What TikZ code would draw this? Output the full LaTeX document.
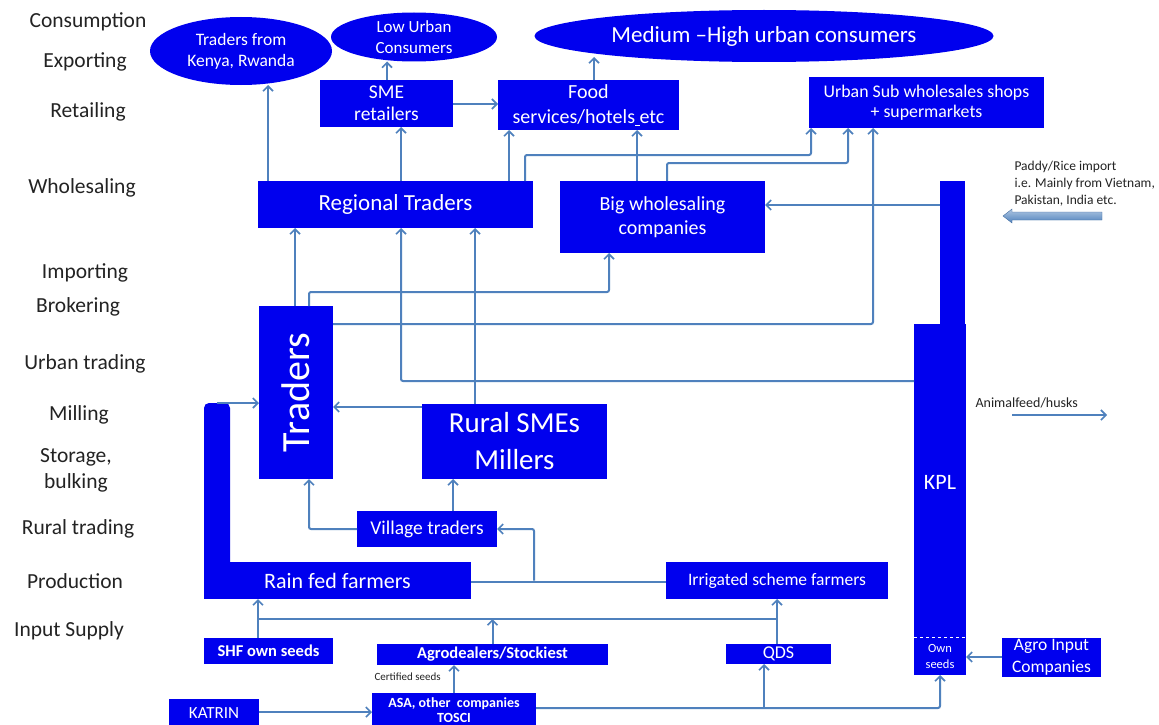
\documentclass[tikz,border=0pt]{standalone}
\usepackage{fontspec}
\setmainfont{Carlito}
\usetikzlibrary{shapes.geometric,arrows.meta}
\definecolor{boxblue}{RGB}{0,0,238}
\definecolor{linkblue}{RGB}{79,129,189}
\definecolor{labelgray}{RGB}{35,35,35}
\newcommand\fsz[2]{\fontsize{#1}{#2}\selectfont}
\tikzset{
  box/.style={rectangle, fill=boxblue, text=white, inner sep=0pt, outer sep=0pt, align=center},
  oval/.style={ellipse, fill=boxblue, text=white, inner sep=0pt, outer sep=0pt, align=center},
  sz/.style 2 args={minimum width=#1pt, minimum height=#2pt},
  link/.style={draw=linkblue, line width=2pt, rounded corners=2pt},
  conn/.style={link, -{Straight Barb[length=5pt,width=10pt,line width=1.6pt]}},
  stage/.style={text=labelgray, font=\fsz{21.5}{26}, align=center},
  note/.style={text=labelgray, anchor=west, align=left},
}
\begin{document}
\begin{tikzpicture}[x=1pt, y=-1pt]
\fill[white] (0,0) rectangle (1159,725);
\useasboundingbox (0,0) rectangle (1159,725);

% value-chain stages
\node[stage] (st1) at (88,22) {Consumption};
\node[stage] (st2) at (85,62) {Exporting};
\node[stage] (st3) at (88,112) {Retailing};
\node[stage] (st4) at (82,188) {Wholesaling};
\node[stage] (st5) at (85,273) {Importing};
\node[stage] (st6) at (78,307) {Brokering};
\node[stage] (st7) at (85,364) {Urban trading};
\node[stage] (st8) at (79,415) {Milling};
\node[stage] (st9) at (76,470) {Storage,\\bulking};
\node[stage] (st10) at (78,529) {Rural trading};
\node[stage] (st11) at (75,581) {Production};
\node[stage] (st12) at (69,631) {Input Supply};

% consumers
\node[oval, sz={182}{68}, font=\fsz{17.5}{21}] (kenya) at (241,51) {Traders from\\Kenya, Rwanda};
\node[oval, sz={166}{49}, font=\fsz{17}{21}] (low) at (414,37) {Low Urban\\Consumers};
\node[oval, sz={459}{52}, font=\fsz{23}{26}] (med) at (764,36) {Medium –High urban consumers};

% retail
\node[box, sz={133}{47}, font=\fsz{19.5}{22}] (sme) at (386.5,103.5) {SME\\retailers};
\node[box, sz={181}{50}, font=\fsz{20}{25}] (food) at (588.5,105) {Food\\services/hotels\underline{\ }etc};
\node[box, sz={235}{51}, font=\fsz{17.8}{20}] (urban) at (926.5,102.5) {Urban Sub wholesales shops\\+ supermarkets};

% wholesale
\node[box, sz={275}{47}, font=\fsz{23}{26}] (rt) at (395.5,204.5) {Regional Traders};
\node[box, sz={205}{72}, font=\fsz{20}{24}] (big) at (662.5,217) {Big wholesaling\\companies};

% KPL column
\node[box, sz={25}{145}] (kpltop) at (952.5,253) {};
\node[box, sz={52}{351}] (kpl) at (940,499.5) {};
\node[text=white, font=\fsz{22}{26}, inner sep=0pt] (kplname) at (940,482) {KPL};
\node[box, sz={52}{38}, font=\fsz{12.5}{16}] (ownseeds) at (940,656) {Own\\seeds};
\draw[white, dashed, line width=0.8pt] (ownseeds.north west) -- (ownseeds.north east);

% traders, millers, rural level
\node[box, sz={74}{173}] (traders) at (296,392.5) {\rotatebox{90}{\fsz{40}{44}Traders}};
\node[box, sz={185}{75}, font=\fsz{29}{37}] (smes) at (514.5,441.5) {Rural SMEs\\Millers};
\node[box, sz={140}{36}, font=\fsz{19.5}{22}] (village) at (427,529) {Village traders};

% production
\node[box, sz={26}{166}, rounded corners=5pt] (rainbar) at (217,486) {};
\node[box, sz={267}{37}, font=\fsz{22}{26}] (rain) at (337.5,580.5) {Rain fed farmers};
\node[box, sz={222}{37}, font=\fsz{17.5}{21}] (irr) at (777,580.5) {Irrigated scheme farmers};

% input supply
\node[box, sz={129}{26}, font=\bfseries\fsz{16.5}{20}] (shf) at (268.5,651) {SHF own seeds};
\node[box, sz={231}{21}, font=\bfseries\fsz{16.5}{20}] (agro) at (492.5,654.5) {Agrodealers/Stockiest};
\node[box, sz={105}{20}, font=\fsz{18}{20}] (qds) at (778.5,654) {QDS};
\node[box, sz={99}{39}, font=\fsz{17.5}{22}] (aic) at (1051.5,657.5) {Agro Input\\Companies};
\node[box, sz={90}{28}, font=\fsz{17}{20}] (katrin) at (214,713) {KATRIN};
\node[box, sz={164}{42}, font=\bfseries\fsz{14}{15}, text depth=0pt] (asa) at (454,714) {};
\node[text=white, font=\bfseries\fsz{14}{15}, align=center, inner sep=0pt] (asaname) at (454,710) {ASA, other\ \ companies\\TOSCI};

% side notes
\node[note, font=\fsz{13.5}{17}] (imptext) at (1011,184) {Paddy/Rice import\\i.e. Mainly from Vietnam,\\Pakistan, India etc.};
\shade[top color=linkblue!45!white, bottom color=linkblue, draw=linkblue!85!black, line width=0.4pt]
  (1102,212) -- (1012,212) -- (1012,209) -- (1003,216) -- (1012,223) -- (1012,220) -- (1102,220) -- cycle;
\node[note, font=\fsz{14}{17}] (feedtext) at (972,403) {Animalfeed/husks};
\coordinate (feedA) at (1012,415);
\coordinate (feedB) at (1107,415);
\draw[conn, line width=2.6pt] (feedA) -- (feedB);
\node[note, font=\fsz{11}{13}] (certtext) at (371,677) {Certified seeds};

% flows to consumers
\draw[conn] (rt.north -| 268,0) -- (kenya.south -| 268,0);
\draw[conn] (rt.north -| 401,0) -- (sme.south -| 401,0);
\draw[conn] (sme.north -| 387,0) -- (low.south -| 387,0);
\draw[conn] (sme.east |- 0,104) -- (food.west |- 0,104);
\draw[conn] (food.north -| 594,0) -- (594,57);
\draw[conn] (rt.north -| 509,0) -- (food.south -| 509,0);
\draw[conn] (rt.north -| 525,0) |- (811,155) -- (urban.south -| 811,0);
\draw[conn] (big.north -| 637,0) -- (food.south -| 637,0);
\draw[conn] (big.north -| 667,0) |- (848,163) -- (urban.south -| 848,0);
\draw[conn] (kpltop.west |- 0,205) -- (big.east |- 0,205);

% flows from traders and KPL
\draw[conn] (traders.north -| 295,0) -- (rt.south -| 295,0);
\draw[conn] (traders.north -| 309,0) |- (609,292) -- (big.south -| 609,0);
\draw[conn] (traders.east |- 0,324) -| (urban.south -| 873,0);
\draw[conn] (kpl.west |- 0,381) -| (rt.south -| 401,0);
\draw[conn] (smes.north -| 475,0) -- (rt.south -| 475,0);
\draw[conn] (smes.west |- 0,407) -- (traders.east |- 0,407);
\draw[conn] (village.north -| 453,0) -- (smes.south -| 453,0);
\draw[conn] (village.west) -| (traders.south -| 309,0);
\draw[conn] (rainbar.north) -- (traders.west |- rainbar.north);

% farmers
\draw[link] (rain.east |- 0,582) -- (irr.west |- 0,582);
\draw[conn] (rain.east -| 534,0) |- (village.east);

% seed supply
\coordinate (busw) at (258,619);
\coordinate (buse) at (777,619);
\draw[conn] (shf.north -| busw) -- (rain.south -| busw);
\draw[link] (busw) -- (buse);
\draw[conn] (agro.north) -- (busw -| agro.north);
\draw[conn] (qds.north -| buse) -- (irr.south -| buse);
\draw[conn] (asa.north -| 454,0) -- (agro.south -| 454,0);
\draw[conn] (katrin.east |- 0,712) -- (asa.west |- 0,712);
\draw[conn] (asa.east |- 0,708) -| (ownseeds.south);
\draw[conn] (764,708) -- (qds.south -| 764,0);
\draw[conn] (aic.west |- 0,657) -- (ownseeds.east |- 0,657);
\end{tikzpicture}
\end{document}
